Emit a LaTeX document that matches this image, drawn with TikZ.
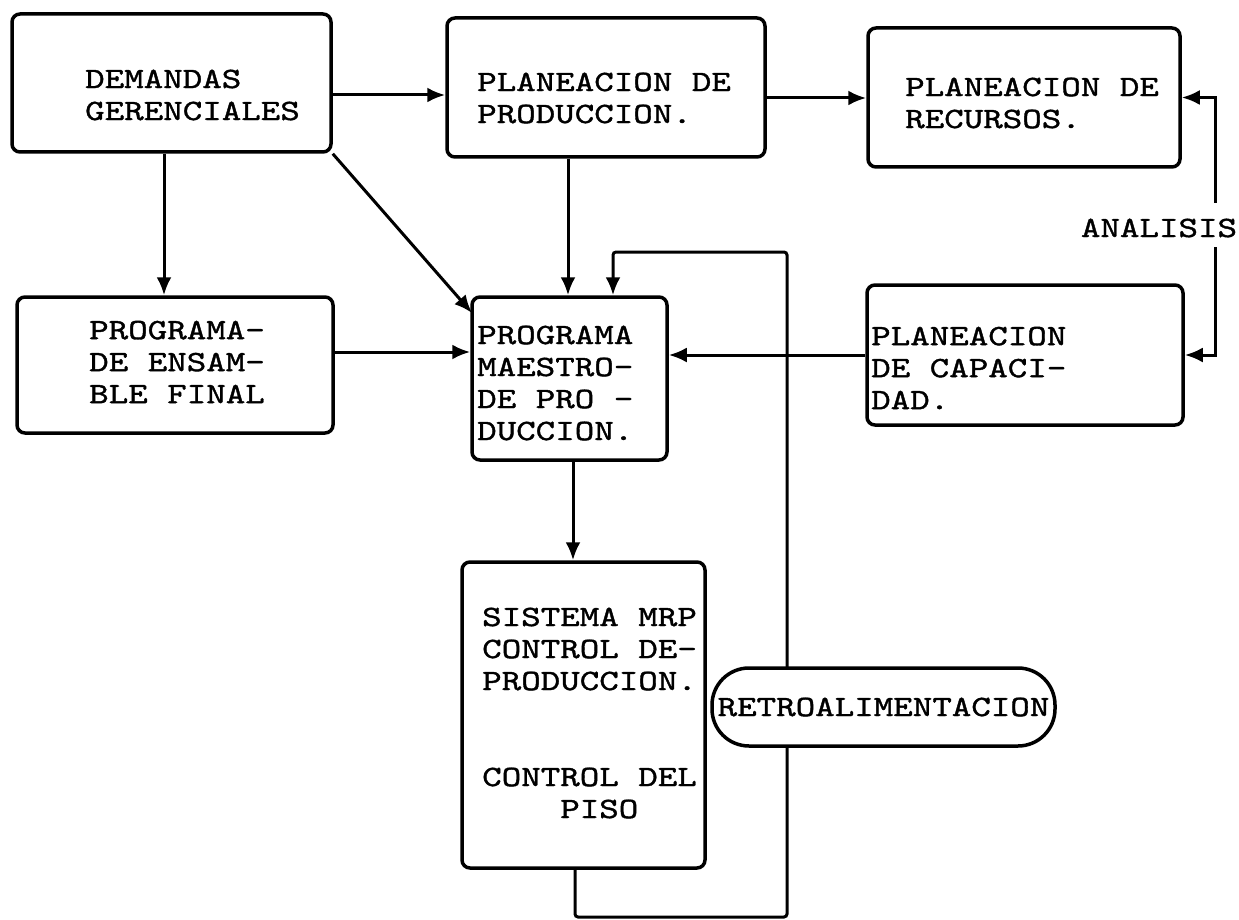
\documentclass[tikz,border=0pt]{standalone}
\usepackage{fontspec}
\usetikzlibrary{arrows.meta,calc}
\newfontfamily\twfam[Extension=.otf, FakeStretch=1.26, FakeBold=1.3]{lmmono10-regular}
\newcommand\twfont{\twfam\fontsize{29.5}{32}\selectfont}
\begin{document}
\begin{tikzpicture}[x=1pt,y=-1pt,
  box/.style={draw, line width=3.5pt, rounded corners=8pt, inner sep=0pt},
  txt/.style={anchor=west, inner sep=0pt, align=left, font=\twfont},
  conn/.style={line width=3pt},
  arr/.style={conn, -{Latex[length=18pt,width=15pt]}},
  pill/.style={draw, fill=white, line width=3.5pt, rounded corners=37pt, inner sep=0pt,
    minimum width=343pt, minimum height=78pt, font=\twfont}
]
\useasboundingbox (0,0) rectangle (1239,920);

% boxes
\node[box, minimum width=319pt, minimum height=138pt] (dem) at (171.5,83) {};
\node[box, minimum width=318pt, minimum height=139pt] (prod) at (606,87.5) {};
\node[box, minimum width=312pt, minimum height=139pt] (rec) at (1024,97.5) {};
\node[box, minimum width=316pt, minimum height=136pt] (ens) at (175,365) {};
\node[box, minimum width=195pt, minimum height=163pt] (mae) at (569.5,378.5) {};
\node[box, minimum width=316pt, minimum height=140pt] (cap) at (1025,355) {};
\node[box, minimum width=243pt, minimum height=306pt] (mrp) at (583.5,715) {};

% texts
\node[txt] (dem-t) at (85,95) {DEMANDAS\\GERENCIALES};
\node[txt] (prod-t) at (477,98) {PLANEACION DE\\PRODUCCION.};
\node[txt] (rec-t) at (905,103) {PLANEACION DE\\RECURSOS.};
\node[txt] (ens-t) at (89,362) {PROGRAMA-\\DE ENSAM-\\BLE FINAL};
\node[txt] (mae-t) at (477,383) {PROGRAMA\\MAESTRO-\\DE PRO -\\DUCCION.};
\node[txt] (cap-t) at (871,368) {PLANEACION\\DE CAPACI-\\DAD.};
\node[txt] (mrp-t) at (482,713) {SISTEMA MRP\\CONTROL DE-\\PRODUCCION.\\[64pt]CONTROL DEL\\\hphantom{CONT}PISO};
\node[txt, anchor=center] (an) at (1159,228) {ANALISIS};

% helper coordinates
\coordinate (r1) at (0,95);
\coordinate (r2) at (0,98);
\coordinate (r3) at (0,352);
\coordinate (c1) at (164,0);
\coordinate (c2) at (568,0);
\coordinate (c3) at (573,0);
\coordinate (c4) at (575,0);
\coordinate (c5) at (613,0);
\coordinate (a1) at (1215,203);
\coordinate (a2) at (1215,247);
\coordinate (f1) at (787,917);
\coordinate (f2) at (787,252);
\coordinate (d1) at (472,313);

% connectors
\draw[arr] (dem.east |- r1) -- (prod.west |- r1);
\draw[arr] (prod.east |- r2) -- (rec.west |- r2);
\draw[arr] (dem.south -| c1) -- (ens.north -| c1);
\draw[arr] (dem.south east) -- (d1);
\draw[arr] (prod.south -| c2) -- (mae.north -| c2);
\draw[arr] (ens.east |- r3) -- (mae.west |- r3);
\draw[arr] (cap.west) -- (mae.east |- cap.west);
\draw[arr] (mae.south -| c3) -- (mrp.north -| c3);
\draw[arr] (a1) |- (rec.east);
\draw[arr] (a2) |- (cap.east);
\draw[arr, rounded corners=3pt] (mrp.south -| c4) |- (f1) -- (f2) -| (mae.north -| c5);

\node[pill] (retro) at (883.5,707) {RETROALIMENTACION};
\end{tikzpicture}
\end{document}
